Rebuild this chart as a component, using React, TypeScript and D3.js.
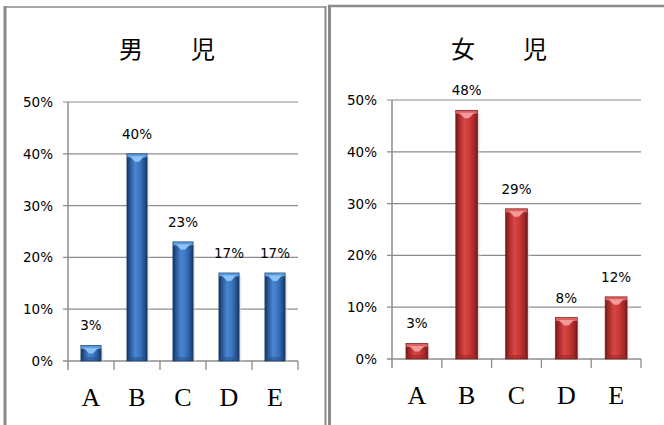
import React from "react";
import * as d3 from "d3";

const categories = ["A", "B", "C", "D", "E"];
const boysValues = [3, 40, 23, 17, 17];
const girlsValues = [3, 48, 29, 8, 12];
const yTicks = [0, 10, 20, 30, 40, 50];

type Palette = { id: string; edge: string; dark: string; mid: string; light: string; cap: string; capHi: string };

const bluePal: Palette = {
  id: "blue",
  edge: "#16335c",
  dark: "#24508c",
  mid: "#3a74c0",
  light: "#4a86d2",
  cap: "#5d9be2",
  capHi: "#8cc3f6",
};
const redPal: Palette = {
  id: "red",
  edge: "#6a1515",
  dark: "#9e2626",
  mid: "#c83636",
  light: "#d94646",
  cap: "#e06060",
  capHi: "#f29a9a",
};

type PanelProps = {
  title: string;
  values: number[];
  pal: Palette;
  x0: number;
  x1: number;
  yBase: number;
  yTop: number;
  titleX: number;
};

function Panel({ title, values, pal, x0, x1, yBase, yTop, titleX }: PanelProps) {
  const x = d3.scaleBand<string>().domain(categories).range([x0, x1]).paddingInner(0.56).paddingOuter(0.28);
  const y = d3.scaleLinear().domain([0, 50]).range([yBase, yTop]);
  const step = x.step();
  const bw = x.bandwidth();
  return (
    <g>
      <text
        x={titleX}
        y={47}
        textAnchor="middle"
        dominantBaseline="central"
        fontFamily="'Noto Sans CJK JP', sans-serif"
        fontSize={24}
        fontWeight={400}
        fill="#000"
      >
        {title}
      </text>
      {yTicks.map((t) => (
        <g key={t}>
          <line x1={x0 - 5} x2={x1} y1={y(t)} y2={y(t)} stroke="#8c8c8c" strokeWidth={t === 0 ? 1.5 : 1.2} />
          <text
            x={x0 - 15}
            y={y(t)}
            textAnchor="end"
            dominantBaseline="central"
            fontFamily="'DejaVu Sans', sans-serif"
            fontSize={13.5}
            fill="#000"
          >
            {t + "%"}
          </text>
        </g>
      ))}
      <line x1={x0} x2={x0} y1={yTop} y2={yBase + 9} stroke="#8c8c8c" strokeWidth={1.5} />
      {categories.map((c, i) => (
        <line key={"t" + c} x1={x0 + (i + 1) * step} x2={x0 + (i + 1) * step} y1={yBase} y2={yBase + 9} stroke="#8c8c8c" strokeWidth={1.3} />
      ))}
      {categories.map((c, i) => {
        const bx = x(c)!;
        const top = y(values[i]);
        const h = yBase - top;
        return (
          <g key={c}>
            <rect x={bx + bw} y={top + 3} width={4} height={h - 3} fill={`url(#shadow-${pal.id})`} />
            <rect x={bx} y={top} width={bw} height={h} fill={`url(#body-${pal.id})`} />
            <rect x={bx} y={yBase - 4} width={bw} height={4} fill={pal.dark} opacity={0.5} />
            <rect x={bx} y={top} width={bw} height={3.5} fill={pal.cap} />
            <path
              d={`M${bx + bw * 0.15},${top + 2.5} L${bx + bw * 0.85},${top + 2.5} L${bx + bw * 0.6},${top + 8} L${bx + bw * 0.4},${top + 8} Z`}
              fill={pal.capHi}
            />
            <rect x={bx} y={top} width={bw} height={h} fill="none" stroke={pal.edge} strokeWidth={0.8} opacity={0.7} />
            <text
              x={bx + bw / 2}
              y={top - 15}
              textAnchor="middle"
              fontFamily="'DejaVu Sans', sans-serif"
              fontSize={13.5}
              fill="#000"
            >
              {values[i] + "%"}
            </text>
            <text
              x={bx + bw / 2}
              y={yBase + 45}
              textAnchor="middle"
              fontFamily="'Liberation Serif', serif"
              fontSize={26}
              fill="#000"
            >
              {c}
            </text>
          </g>
        );
      })}
    </g>
  );
}

function Defs({ pal }: { pal: Palette }) {
  return (
    <>
      <linearGradient id={`body-${pal.id}`} x1="0" x2="1" y1="0" y2="0">
        <stop offset="0" stopColor={pal.edge} />
        <stop offset="0.12" stopColor={pal.dark} />
        <stop offset="0.4" stopColor={pal.light} />
        <stop offset="0.65" stopColor={pal.mid} />
        <stop offset="0.88" stopColor={pal.dark} />
        <stop offset="1" stopColor={pal.edge} />
      </linearGradient>
      <linearGradient id={`shadow-${pal.id}`} x1="0" x2="1" y1="0" y2="0">
        <stop offset="0" stopColor="#b8b8b8" stopOpacity={0.7} />
        <stop offset="1" stopColor="#ffffff" stopOpacity={0} />
      </linearGradient>
    </>
  );
}

export default function App() {
  return (
    <svg
      width={664}
      height={425}
      style={{ position: "absolute", left: 0, top: 0, background: "#fff" }}
    >
      <defs>
        <Defs pal={bluePal} />
        <Defs pal={redPal} />
      </defs>
      {/* panel frames */}
      <line x1={5} x2={326} y1={7} y2={7} stroke="#8a8a8a" strokeWidth={1.5} />
      <line x1={5} x2={5} y1={6} y2={425} stroke="#8a8a8a" strokeWidth={3} />
      <line x1={325.5} x2={325.5} y1={6} y2={425} stroke="#8a8a8a" strokeWidth={2} />
      <line x1={328} x2={664} y1={6} y2={6} stroke="#8a8a8a" strokeWidth={2.5} />
      <line x1={329.5} x2={329.5} y1={5} y2={425} stroke="#8a8a8a" strokeWidth={3} />
      <Panel title={"男\u3000\u3000児"} values={boysValues} pal={bluePal} x0={68} x1={298} yBase={361} yTop={102} titleX={167} />
      <Panel title={"女\u3000\u3000児"} values={girlsValues} pal={redPal} x0={392} x1={641} yBase={359} yTop={100} titleX={499} />
    </svg>
  );
}
